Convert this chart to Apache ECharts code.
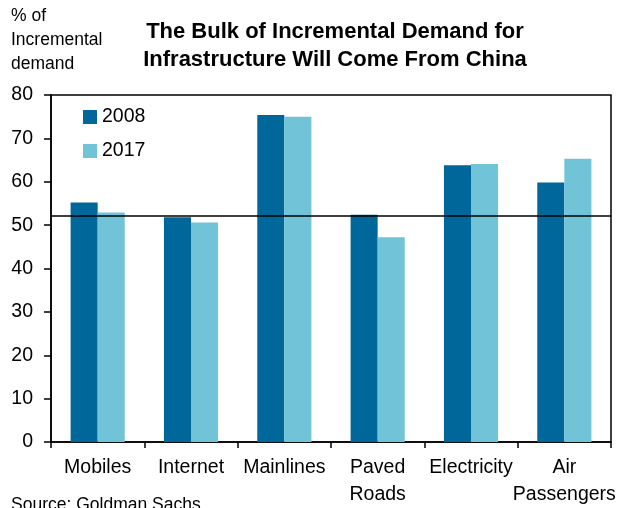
<!DOCTYPE html>
<html>
<head>
<meta charset="utf-8">
<style>
  html, body { margin: 0; padding: 0; background: #fff; }
  #chart { width: 619px; height: 508px; }
</style>
<script src="https://cdn.jsdelivr.net/npm/echarts@6/dist/echarts.min.js"></script>
</head>
<body>
<div id="chart"></div>
<script>
// Share of incremental infrastructure demand coming from China (%)
const categories = ['Mobiles', 'Internet', 'Mainlines', 'Paved\nRoads', 'Electricity', 'Air\nPassengers'];
const values2008 = [55.2, 51.8, 75.4, 52.4, 63.8, 59.8];
const values2017 = [52.9, 50.6, 75.0, 47.2, 64.1, 65.3];
const seriesNames = ['2008', '2017'];
const referenceLevel = 52.2;
const yTicks = { min: 0, max: 80, interval: 10 };

const FONT = "'Liberation Sans', Arial, sans-serif";
const DARK = '#00679A';
const LIGHT = '#71C4D8';

const chart = echarts.init(document.getElementById('chart'), null, { renderer: 'canvas' });

chart.setOption({
  animation: false,
  backgroundColor: '#ffffff',
  textStyle: { fontFamily: FONT, color: '#000' },
  title: [
    {
      text: 'The Bulk of Incremental Demand for\nInfrastructure Will Come From China',
      left: 335,
      top: 18,
      padding: 0,
      textAlign: 'center',
      textStyle: { fontFamily: FONT, fontSize: 22, fontWeight: 'bold', lineHeight: 28, color: '#000' }
    },
    {
      text: '% of\nIncremental\ndemand',
      left: 11,
      top: 4,
      padding: 0,
      textStyle: { fontFamily: FONT, fontSize: 17.5, fontWeight: 'normal', lineHeight: 24, color: '#000' }
    },
    {
      text: 'Source: Goldman Sachs',
      left: 11,
      top: 493,
      padding: 0,
      textStyle: { fontFamily: FONT, fontSize: 17.5, fontWeight: 'normal', lineHeight: 24, color: '#000' }
    }
  ],
  legend: {
    orient: 'vertical',
    left: 83,
    top: 107,
    padding: 0,
    itemWidth: 14,
    itemHeight: 14,
    itemGap: 14,
    icon: 'rect',
    data: seriesNames,
    textStyle: { fontFamily: FONT, fontSize: 19.5, color: '#000' }
  },
  grid: {
    left: 51,
    right: 8,
    top: 95,
    bottom: 65,
    show: true,
    borderColor: '#000',
    borderWidth: 1.5,
    backgroundColor: 'transparent',
    containLabel: false
  },
  xAxis: {
    type: 'category',
    data: categories,
    boundaryGap: true,
    axisLine: { show: true, lineStyle: { color: '#000', width: 1.5 } },
    axisTick: { show: true, length: 6, inside: false, alignWithLabel: false, lineStyle: { color: '#000', width: 1.5 } },
    axisLabel: { fontFamily: FONT, fontSize: 19.5, color: '#000', lineHeight: 27, margin: 12, interval: 0 },
    splitLine: { show: false }
  },
  yAxis: {
    type: 'value',
    min: yTicks.min,
    max: yTicks.max,
    interval: yTicks.interval,
    axisLine: { show: true, lineStyle: { color: '#000', width: 1.5 } },
    axisTick: { show: true, length: 7, inside: false, lineStyle: { color: '#000', width: 1.5 } },
    axisLabel: { fontFamily: FONT, fontSize: 19.5, color: '#000', margin: 18 },
    splitLine: { show: false }
  },
  series: [
    {
      name: seriesNames[0],
      type: 'bar',
      data: values2008,
      barGap: '0%',
      barCategoryGap: '42%',
      itemStyle: { color: DARK },
      markLine: {
        silent: true,
        symbol: 'none',
        label: { show: false },
        lineStyle: { color: '#000', width: 1.5, type: 'solid' },
        data: [{ yAxis: referenceLevel }]
      },
      z: 2
    },
    {
      name: seriesNames[1],
      type: 'bar',
      data: values2017,
      barGap: '0%',
      barCategoryGap: '42%',
      itemStyle: { color: LIGHT },
      z: 2
    }
  ]
});
</script>
</body>
</html>
